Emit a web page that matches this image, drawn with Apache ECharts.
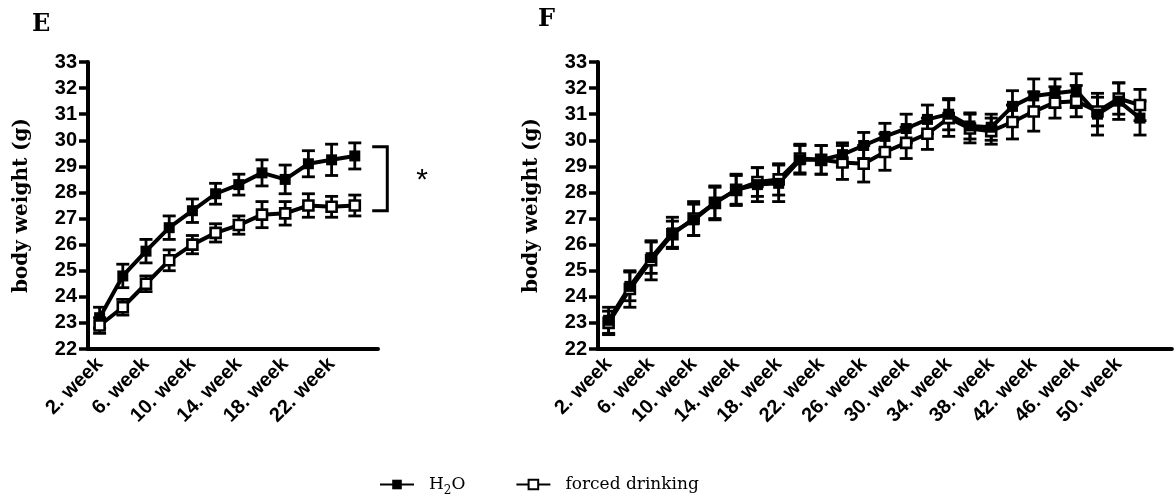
<!DOCTYPE html>
<html><head><meta charset="utf-8">
<script src="https://cdn.jsdelivr.net/npm/echarts@6/dist/echarts.min.js"></script>
<style>html,body{margin:0;padding:0;background:#fff}#c{width:1174px;height:502px}</style>
</head><body><div id="c"></div>
<script>
// ---- Panel E (weeks 2..24) ----
const weeksE = [2,4,6,8,10,12,14,16,18,20,22,24];
const h2oE    = [23.2,24.8,25.75,26.65,27.3,27.95,28.3,28.75,28.5,29.1,29.25,29.4];
const h2oErrE = [0.4,0.45,0.45,0.45,0.45,0.4,0.4,0.5,0.55,0.5,0.6,0.5];
const fdE     = [22.9,23.6,24.5,25.4,26.0,26.45,26.75,27.15,27.2,27.5,27.45,27.5];
const fdErrE  = [0.3,0.3,0.3,0.4,0.35,0.35,0.35,0.5,0.45,0.45,0.4,0.4];
const labelWeeksE = [2,6,10,14,18,22];

// ---- Panel F (weeks 2..52) ----
const weeksF = [2,4,6,8,10,12,14,16,18,20,22,24,26,28,30,32,34,36,38,40,42,44,46,48,50,52];
const h2oF    = [23.1,24.4,25.5,26.45,26.95,27.6,28.1,28.3,28.35,29.25,29.25,29.45,29.8,30.15,30.45,30.8,31.0,30.55,30.5,31.3,31.7,31.8,31.9,31.0,31.5,30.85];
const h2oErrF = [0.5,0.55,0.6,0.6,0.6,0.65,0.6,0.65,0.7,0.55,0.55,0.45,0.5,0.5,0.55,0.55,0.6,0.5,0.5,0.6,0.65,0.55,0.65,0.8,0.7,0.65];
const fdF     = [23.0,24.3,25.4,26.4,27.0,27.6,28.1,28.4,28.5,29.3,29.25,29.15,29.1,29.55,29.9,30.25,30.85,30.45,30.35,30.7,31.1,31.45,31.5,31.1,31.6,31.35];
const fdErrF  = [0.45,0.7,0.75,0.5,0.65,0.6,0.55,0.55,0.6,0.55,0.55,0.65,0.7,0.7,0.6,0.6,0.7,0.55,0.5,0.65,0.75,0.6,0.6,0.55,0.6,0.6];
const labelWeeksF = [2,6,10,14,18,22,26,30,34,38,42,46,50];

const yTicks = {min:22, max:33, step:1};
const seriesNames = ['H2O','forced drinking'];
const yTitle = 'body weight (g)';
const bracketE = {x0:25.5, x1:26.8, yLow:27.3, yHigh:29.75};
const starE = {x:29.8, y:28.45, text:'*'};

const SANS = 'Liberation Sans, Arial, sans-serif';
const SERIF = 'DejaVu Serif, serif';

function xAxis(gi, max, labelWeeks){
  return {type:'value', gridIndex:gi, min:1, max:max, interval:1,
    axisLine:{show:true, onZero:false, lineStyle:{color:'#000', width:4}},
    axisTick:{show:false}, splitLine:{show:false},
    axisLabel:{rotate:45, margin:12, color:'#000', fontFamily:SANS, fontWeight:'bold', fontSize:20,
      formatter: v => labelWeeks.indexOf(v) >= 0 ? v + '. week' : ''}};
}
function yAxis(gi){
  return {type:'value', gridIndex:gi, min:yTicks.min, max:yTicks.max, interval:yTicks.step,
    axisLine:{show:true, onZero:false, lineStyle:{color:'#000', width:4}},
    axisTick:{show:true, length:9, lineStyle:{color:'#000', width:3.5}},
    splitLine:{show:false},
    axisLabel:{margin:11, color:'#000', fontFamily:SANS, fontWeight:'bold', fontSize:20},
    name:yTitle, nameLocation:'middle', nameGap:56,
    nameTextStyle:{color:'#000', fontFamily:SERIF, fontWeight:'bold', fontSize:20}};
}
function errRender(params, api){
  const x = api.value(0), lo = api.value(1), hi = api.value(2);
  const a = api.coord([x, lo]), b = api.coord([x, hi]);
  const hw = 6.5, st = {stroke:'#000', lineWidth:2.8};
  return {type:'group', children:[
    {type:'line', shape:{x1:a[0], y1:a[1], x2:b[0], y2:b[1]}, style:st},
    {type:'line', shape:{x1:a[0]-hw, y1:a[1], x2:a[0]+hw, y2:a[1]}, style:st},
    {type:'line', shape:{x1:b[0]-hw, y1:b[1], x2:b[0]+hw, y2:b[1]}, style:st}
  ]};
}
function errSeries(gi, weeks, vals, errs){
  return {type:'custom', xAxisIndex:gi, yAxisIndex:gi, renderItem:errRender, z:2, silent:true,
    encode:{x:0, y:[1,2]},
    data: weeks.map((w,i)=>[w, vals[i]-errs[i], vals[i]+errs[i]])};
}
function lineSeries(gi, name, weeks, vals, filled){
  return {type:'line', name:name, xAxisIndex:gi, yAxisIndex:gi, z:3,
    data: weeks.map((w,i)=>[w, vals[i]]),
    symbol:'rect', symbolSize: filled ? 11 : 10, showAllSymbol:true,
    lineStyle:{color:'#000', width:4},
    itemStyle: filled ? {color:'#000'} : {color:'#fff', borderColor:'#000', borderWidth:2.6}};
}

const chart = echarts.init(document.getElementById('c'), null, {renderer:'canvas'});
chart.setOption({
  animation:false,
  backgroundColor:'#fff',
  title:[
    {text:'E', left:27, top:8, padding:5, textStyle:{fontFamily:SERIF, fontWeight:'bold', fontSize:24, color:'#000'}},
    {text:'F', left:533, top:3, padding:5, textStyle:{fontFamily:SERIF, fontWeight:'bold', fontSize:24, color:'#000'}}
  ],
  legend:{
    left:374, top:471, itemWidth:34, itemHeight:12, itemGap:50,
    data:seriesNames,
    formatter: n => n === 'H2O' ? 'H{sub|2}O' : n,
    textStyle:{fontFamily:SERIF, fontSize:17, color:'#000', padding:[0,0,0,10],
      rich:{sub:{fontFamily:SERIF, fontSize:12, padding:[12,0,0,0]}}}
  },
  grid:[
    {left:88, top:62, width:290, height:287, containLabel:false},
    {left:598, top:62, width:576, height:287, containLabel:false}
  ],
  xAxis:[xAxis(0, 26, labelWeeksE), xAxis(1, 55, labelWeeksF)],
  yAxis:[yAxis(0), yAxis(1)],
  series:[
    errSeries(0, weeksE, h2oE, h2oErrE),
    errSeries(0, weeksE, fdE, fdErrE),
    lineSeries(0, seriesNames[0], weeksE, h2oE, true),
    lineSeries(0, seriesNames[1], weeksE, fdE, false),
    errSeries(1, weeksF, h2oF, h2oErrF),
    errSeries(1, weeksF, fdF, fdErrF),
    lineSeries(1, seriesNames[1], weeksF, fdF, false),
    lineSeries(1, seriesNames[0], weeksF, h2oF, true),
    {type:'custom', xAxisIndex:0, yAxisIndex:0, silent:true, clip:false, z:4,
      data:[[bracketE.x0, bracketE.x1, bracketE.yLow, bracketE.yHigh, starE.x, starE.y]],
      renderItem:function(params, api){
        const p0 = api.coord([api.value(0), api.value(3)]);
        const p1 = api.coord([api.value(1), api.value(3)]);
        const p2 = api.coord([api.value(1), api.value(2)]);
        const p3 = api.coord([api.value(0), api.value(2)]);
        const ps = api.coord([api.value(4), api.value(5)]);
        return {type:'group', children:[
          {type:'polyline', shape:{points:[p0,p1,p2,p3]}, style:{stroke:'#000', lineWidth:3, fill:null}},
          {type:'text', x:ps[0], y:ps[1], style:{text:starE.text, fontFamily:SANS, fontSize:30, fill:'#000', align:'center', verticalAlign:'middle'}}
        ]};
      }}
  ]
});
</script>
</body></html>
